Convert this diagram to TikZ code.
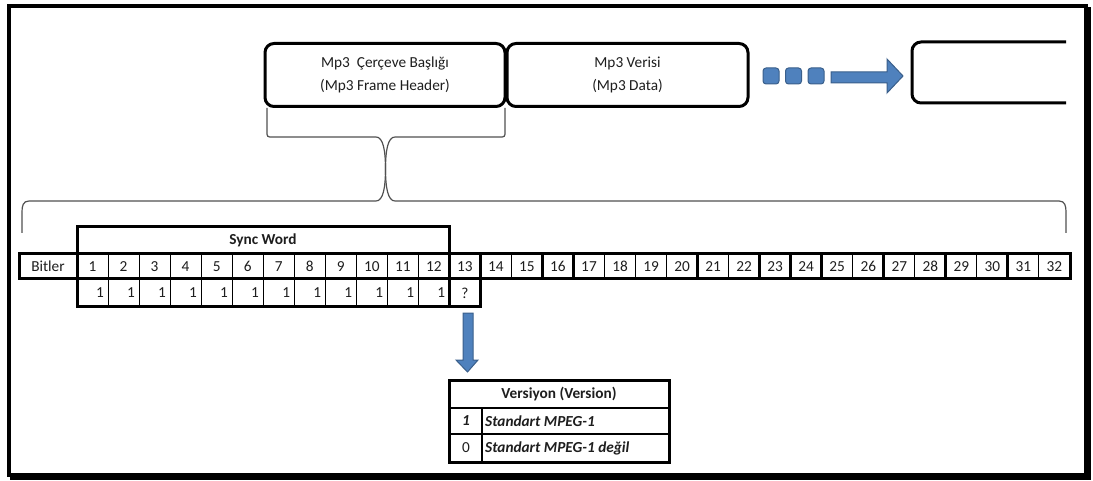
\documentclass[tikz,border=0pt]{standalone}
\usepackage{fontspec}
\setmainfont{Carlito}
\definecolor{blockblue}{HTML}{4F81BD}
\definecolor{blockedge}{HTML}{3A5F8B}
\definecolor{bracegray}{HTML}{505050}
\definecolor{ink}{HTML}{1E1E1E}
\begin{document}
\begin{tikzpicture}[x=1pt,y=-1pt,
  txt/.style={font=\fontsize{15.3}{23}\selectfont, text=ink, inner sep=0pt},
  boldtxt/.style={txt, font=\fontsize{15.3}{23}\selectfont\bfseries},
  bitxt/.style={txt, font=\fontsize{15.3}{23}\selectfont\bfseries\itshape},
  fieldbox/.style={draw, line width=3pt, rounded corners=9pt, align=center, txt,
    minimum width=240pt, minimum height=63pt},
  bracepath/.style={draw=bracegray, line width=1.2pt},
  thickline/.style={line width=3pt},
  thinline/.style={line width=1pt},
  bluebody/.style={fill=blockblue, draw=blockedge, line width=1pt},
]
\useasboundingbox (0,0) rectangle (1093,481);

% outer frame with its drop shadow
\draw[line width=4pt, fill=black] (12,9) rectangle (1089,478);
\draw[line width=4pt, fill=white] (9,6) rectangle (1086,475);

% frame fields
\node[fieldbox] (hdr) at (385,75) {Mp3~~Çerçeve Başlığı\\(Mp3 Frame Header)};
\node[fieldbox, minimum width=241pt] (dat) at (627.5,75) {Mp3 Verisi\\(Mp3 Data)};
\draw[line width=3pt, rounded corners=9pt] (1066,42) -- (912,42) -- (912,103) -- (1066,103);

% continuation dots and arrow
\foreach \sx in {763,785.5,808}
  \draw[bluebody, rounded corners=3pt] (\sx,68) rectangle ++(16,16);
\draw[bluebody] (831,72) -- (887,72) -- (887,59) -- (903,76) -- (887,93) -- (887,83) -- (831,83) -- cycle;

% braces
\draw[bracepath] (267,108) -- (267,131) .. controls (267,137) .. (273,137) -- (376,137)
  .. controls (383,137) and (385.5,150) .. (385.5,169)
  .. controls (385.5,188) and (383,201) .. (376,201) -- (29,201)
  .. controls (23,201) and (22,206) .. (22,212) -- (22,233);
\draw[bracepath] (505,108) -- (505,131) .. controls (505,137) .. (499,137) -- (395,137)
  .. controls (388,137) and (385.5,150) .. (385.5,169)
  .. controls (385.5,188) and (388,201) .. (395,201) -- (1059,201)
  .. controls (1065,201) and (1066,206) .. (1066,212) -- (1066,233);

% bit table
\def\cw{31.03}
\node[boldtxt] (sync) at (263,240) {Sync Word};
\node[txt] (bitler) at (48,266.5) {Bitler};
\foreach \i in {1,...,32} {
  \pgfmathsetmacro\cx{77+(\i-0.5)*\cw}
  \node[txt] (bit\i) at (\cx,266.5) {\i};
}
\foreach \i in {1,...,12} {
  \pgfmathsetmacro\rx{77+\i*\cw-4}
  \node[txt, anchor=east] (val\i) at (\rx,293) {1};
}
\node[txt] (val13) at ({77+12.5*\cw},293) {?};

% cell separators
\foreach \i in {2,...,32} {
  \pgfmathsetmacro\lx{77+(\i-1)*\cw}
  \draw[thinline] (\lx,254) -- (\lx,279);
}
\foreach \i in {2,...,12} {
  \pgfmathsetmacro\lx{77+(\i-1)*\cw}
  \draw[thinline] (\lx,279) -- (\lx,306.5);
}
\foreach \i in {13,14,16,17,21,23,24,25,27,29,31} {
  \pgfmathsetmacro\lx{77+(\i-1)*\cw}
  \draw[thickline] (\lx,254) -- (\lx,279);
}
\draw[thickline] (77,254) -- (77,279);
\draw[thickline] ({77+12*\cw},279) -- ({77+12*\cw},306.5);
\draw[thickline] (77,226.5) rectangle ({77+12*\cw},254);
\draw[thickline] (19,254) rectangle (1070,279);
\draw[thickline] (77,279) rectangle ({77+13*\cw},306.5);

% down arrow to the version field
\draw[bluebody] (463,313) -- (473,313) -- (473,360) -- (478,360) -- (467.5,372) -- (456,360) -- (463,360) -- cycle;

% version table
\node[boldtxt] (verhead) at (559,394) {Versiyon (Version)};
\node[bitxt] (v1) at (466,421) {1};
\node[bitxt, anchor=west] (v1t) at (485,421) {Standart MPEG-1};
\node[txt] (v0) at (466,448) {0};
\node[bitxt, anchor=west] (v0t) at (485,448) {Standart MPEG-1 değil};
\draw[line width=2.5pt] (449,408) -- (669,408) (449,434) -- (669,434) (482,408) -- (482,462);
\draw[thickline] (449,380) rectangle (669,462);
\end{tikzpicture}
\end{document}
